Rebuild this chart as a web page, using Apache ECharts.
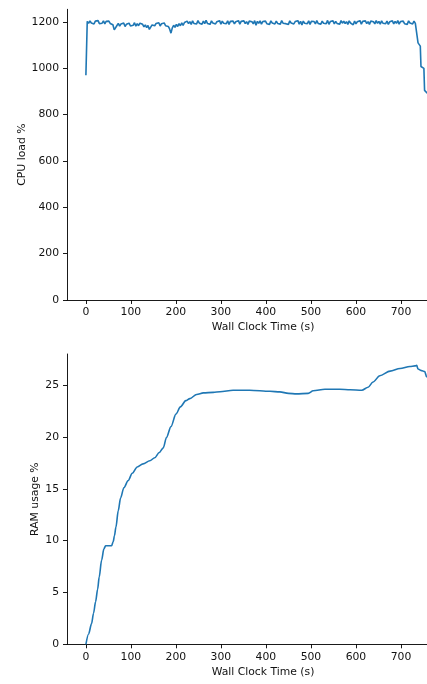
<!DOCTYPE html>
<html>
<head>
<meta charset="utf-8">
<script src="https://cdn.jsdelivr.net/npm/echarts@6/dist/echarts.min.js"></script>
<style>
html,body{margin:0;padding:0;background:#fff;}
#chart{width:427px;height:684px;}
</style>
</head>
<body>
<div id="chart"></div>
<script>
// x tick labels (seconds)
const xTicks = [0, 100, 200, 300, 400, 500, 600, 700];
const cpuTicks = [0, 200, 400, 600, 800, 1000, 1200];
const ramTicks = [0, 5, 10, 15, 20, 25];

// CPU load %, sampled every CPU_STEP seconds from t = 0
const CPU_STEP = 3;
const cpuLoad = [
  970,
  1203,1194,1205,1196,1202,1192,1204,1197,1206,1193,1201,1195,1205,1192,1203,1196,1204,1194,1200,
  1188,1166,1174,1185,
  1194,1182,1192,1185,1196,1181,1190,1184,1195,1183,1191,1186,1197,1182,1193,1184,1195,1187,
  1190,1179,1188,1176,1185,1168,1178,1187,
  1195,1184,1194,1186,1197,1183,1193,1187,1196,1184,1192,
  1181,1170,1152,1175,
  1186,1177,1190,1181,1193,1184,1196,1186,1198,
  1191,1204,1193,1202,1190,1205,1194,1201,1192,1206,
  1195,1203,1191,1204,1193,1207,1194,1202,1190,1205,
  1196,1203,1192,1201,1194,1206,1191,1204,1195,1202,
  1193,1205,1190,1203,1196,1204,1192,1201,1194,1206,
  1191,1203,1195,1205,1193,1202,1190,1204,1196,1201,
  1192,1206,1186,1203,1194,1205,1191,1202,1195,1204,
  1193,1201,1190,1205,1196,1203,1192,1204,1194,1202,
  1191,1206,1195,1203,1193,1201,1190,1205,1196,1204,
  1192,1202,1194,1206,1191,1203,1187,1204,1195,1201,
  1193,1205,1190,1203,1196,1202,1192,1206,1194,1201,
  1191,1204,1195,1203,1193,1207,1190,1202,1196,1205,
  1192,1203,1194,1201,1191,1206,1195,1204,1193,1202,
  1190,1205,1196,1203,1188,1204,1192,1201,1194,1206,
  1191,1203,1195,1205,1193,1202,1190,1204,1196,1201,
  1192,1206,1194,1203,1191,1205,1195,1202,1193,1204,
  1190,1201,1196,1205,1192,1203,1194,1206,1191,1202,
  1195,1204,1193,1201,1190,1205,1196,1203,1192,1204,
  1194,1202
];
// CPU tail (shutdown steps)
const cpuTailTime = [738, 740, 743, 744.5, 748, 751, 752.5, 756, 760];
const cpuTailLoad = [1110, 1102, 1096, 1008, 1003, 1000, 905, 898, 890];

// RAM usage %
const ramTime = [0, 6, 12.6, 17, 21.5, 26, 29.6, 34.8, 40, 43.7, 50, 57, 60.7, 63.5, 66.7, 71.9, 77, 84.4, 94, 103, 114, 127, 142, 153, 163, 172, 179, 189, 200, 210, 222, 231, 246, 261, 283, 298, 327, 364, 409, 431, 450, 468, 494, 505, 531, 564, 587, 613, 627, 638, 653, 676, 698, 720, 731, 735, 738, 746, 753, 757, 765];
const ramUsage = [0, 1.0, 2.0, 3.0, 4.1, 5.3, 6.5, 8.1, 9.2, 9.5, 9.5, 9.5, 9.9, 10.5, 11.3, 12.9, 14.1, 15.1, 15.8, 16.5, 17.1, 17.4, 17.7, 18.0, 18.5, 18.95, 19.95, 21.0, 22.2, 22.9, 23.5, 23.7, 24.1, 24.25, 24.3, 24.36, 24.5, 24.5, 24.4, 24.35, 24.2, 24.15, 24.2, 24.45, 24.6, 24.6, 24.55, 24.5, 24.8, 25.3, 25.9, 26.35, 26.6, 26.8, 26.85, 26.9, 26.55, 26.4, 26.3, 25.8, 25.5];

const cpuData = cpuLoad.map((v, i) => [i * CPU_STEP, v])
  .concat(cpuTailTime.map((t, i) => [t, cpuTailLoad[i]]));
const ramData = ramTime.map((t, i) => [t, ramUsage[i]]);

const FONT = 'DejaVu Sans';
const FS = 10.8;
const TXT = '#111';
const plain = v => String(v);

function xAxisCfg(gi) {
  return {
    type: 'value', gridIndex: gi, min: -42, max: 829,
    name: 'Wall Clock Time (s)', nameLocation: 'middle', nameGap: 22, nameMoveOverlap: false,
    nameTextStyle: { fontFamily: FONT, fontSize: FS, color: TXT },
    axisLine: { show: true, onZero: false, lineStyle: { color: '#000', width: 0.9 } },
    axisTick: { show: true, inside: false, length: 4, customValues: xTicks, lineStyle: { color: '#000', width: 0.9 } },
    axisLabel: { customValues: xTicks, formatter: plain, margin: 7, fontFamily: FONT, fontSize: FS, color: TXT },
    splitLine: { show: false }
  };
}
function yAxisCfg(gi, max, ticks, name, gap) {
  return {
    type: 'value', gridIndex: gi, min: 0, max: max,
    name: name, nameLocation: 'middle', nameRotate: 90, nameGap: gap, nameMoveOverlap: false,
    nameTextStyle: { fontFamily: FONT, fontSize: FS, color: TXT },
    axisLine: { show: true, onZero: false, lineStyle: { color: '#000', width: 0.9 } },
    axisTick: { show: true, inside: false, length: 4, customValues: ticks, lineStyle: { color: '#000', width: 0.9 } },
    axisLabel: { customValues: ticks, formatter: plain, margin: 8, fontFamily: FONT, fontSize: FS, color: TXT },
    splitLine: { show: false }
  };
}

const chart = echarts.init(document.getElementById('chart'), null, { renderer: 'canvas' });
chart.setOption({
  animation: false,
  backgroundColor: '#fff',
  grid: [
    { left: 67, top: 9.3, width: 392, height: 290.7, outerBoundsMode: 'none', containLabel: false },
    { left: 67, top: 354, width: 392, height: 290.3, outerBoundsMode: 'none', containLabel: false }
  ],
  xAxis: [xAxisCfg(0), xAxisCfg(1)],
  yAxis: [
    yAxisCfg(0, 1255, cpuTicks, 'CPU load %', 39.5),
    yAxisCfg(1, 28.0, ramTicks, 'RAM usage %', 26.5)
  ],
  series: [
    { type: 'line', xAxisIndex: 0, yAxisIndex: 0, data: cpuData, showSymbol: false,
      lineStyle: { color: '#1f77b4', width: 1.6 }, clip: true },
    { type: 'line', xAxisIndex: 1, yAxisIndex: 1, data: ramData, showSymbol: false, smooth: 0.3, smoothMonotone: 'x',
      lineStyle: { color: '#1f77b4', width: 1.6 }, clip: true }
  ]
});
</script>
</body>
</html>
